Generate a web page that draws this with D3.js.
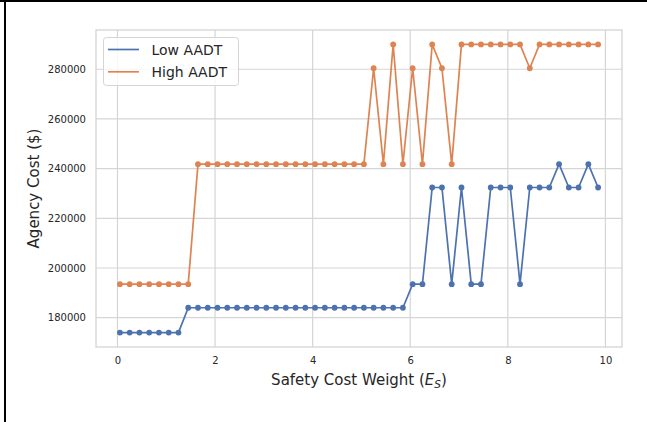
<!DOCTYPE html>
<html>
<head>
<meta charset="utf-8">
<script src="https://cdn.jsdelivr.net/npm/d3@7"></script>
<style>
	html, body { margin: 0; padding: 0; background: #fff; }
	text { font-family: 'DejaVu Sans', sans-serif; fill: #262626; }
</style>
</head>
<body>
<div id="chart"></div>
<script>
// safety cost weight (x)
const weights = [
	0.05, 0.25, 0.45, 0.65, 0.85, 1.05, 1.25, 1.45, 1.65, 1.85,
	2.05, 2.25, 2.45, 2.65, 2.85, 3.05, 3.25, 3.45, 3.65, 3.85,
	4.05, 4.25, 4.45, 4.65, 4.85, 5.05, 5.25, 5.45, 5.65, 5.85,
	6.05, 6.25, 6.45, 6.65, 6.85, 7.05, 7.25, 7.45, 7.65, 7.85,
	8.05, 8.25, 8.45, 8.65, 8.85, 9.05, 9.25, 9.45, 9.65, 9.85
];

// agency cost, low AADT
const lowAADT = [
	174000, 174000, 174000, 174000, 174000, 174000, 174000, 184000, 184000, 184000,
	184000, 184000, 184000, 184000, 184000, 184000, 184000, 184000, 184000, 184000,
	184000, 184000, 184000, 184000, 184000, 184000, 184000, 184000, 184000, 184000,
	193500, 193500, 232400, 232400, 193500, 232400, 193500, 193500, 232400, 232400,
	232400, 193500, 232400, 232400, 232400, 241800, 232400, 232400, 241800, 232400
];

// agency cost, high AADT
const highAADT = [
	193500, 193500, 193500, 193500, 193500, 193500, 193500, 193500, 241800, 241800,
	241800, 241800, 241800, 241800, 241800, 241800, 241800, 241800, 241800, 241800,
	241800, 241800, 241800, 241800, 241800, 241800, 280400, 241800, 290000, 241800,
	280400, 241800, 290000, 280400, 241800, 290000, 290000, 290000, 290000, 290000,
	290000, 290000, 280400, 290000, 290000, 290000, 290000, 290000, 290000, 290000
];

const xTicks = [0, 2, 4, 6, 8, 10];
const yTicks = [180000, 200000, 220000, 240000, 260000, 280000];
const seriesNames = ['Low AADT', 'High AADT'];

const config = {
	width: 647,
	height: 422,
	left: 96,
	right: 622,
	top: 30,
	bottom: 347,
	grid: '#d5d5d5',
	colours: ['#4c72b0', '#dd8452']
};

const svg = d3.select('#chart')
	.append('svg')
	.attr('width', config.width)
	.attr('height', config.height);

// black frame bits on the left and top of the image
svg.append('rect').attr('x', 0).attr('y', 0).attr('width', config.width).attr('height', 2).attr('fill', '#000');
svg.append('rect').attr('x', 4).attr('y', 0).attr('width', 2).attr('height', config.height).attr('fill', '#000');

// matplotlib style 5% margins
const xExt = d3.extent(weights);
const xPad = (xExt[1] - xExt[0]) * 0.05;
const x = d3.scaleLinear()
	.domain([xExt[0] - xPad, xExt[1] + xPad])
	.range([config.left, config.right]);

const yExt = d3.extent(lowAADT.concat(highAADT));
const yPad = (yExt[1] - yExt[0]) * 0.05;
const y = d3.scaleLinear()
	.domain([yExt[0] - yPad, yExt[1] + yPad])
	.range([config.bottom, config.top]);

// grid
const grid = svg.append('g');
grid.selectAll('.vgrid')
	.data(xTicks)
	.enter()
	.append('line')
		.attr('x1', d => x(d)).attr('x2', d => x(d))
		.attr('y1', config.top).attr('y2', config.bottom)
		.attr('stroke', config.grid)
		.attr('stroke-width', 1.2);
grid.selectAll('.hgrid')
	.data(yTicks)
	.enter()
	.append('line')
		.attr('x1', config.left).attr('x2', config.right)
		.attr('y1', d => y(d)).attr('y2', d => y(d))
		.attr('stroke', config.grid)
		.attr('stroke-width', 1.2);

// axes box
svg.append('rect')
	.attr('x', config.left)
	.attr('y', config.top)
	.attr('width', config.right - config.left)
	.attr('height', config.bottom - config.top)
	.attr('fill', 'none')
	.attr('stroke', config.grid)
	.attr('stroke-width', 1.3);

// tick labels via d3 axes, lines hidden
const xAxis = svg.append('g')
	.attr('transform', `translate(0,${config.bottom})`)
	.call(d3.axisBottom(x).tickValues(xTicks).tickSize(0).tickPadding(10));
const yAxis = svg.append('g')
	.attr('transform', `translate(${config.left},0)`)
	.call(d3.axisLeft(y).tickValues(yTicks).tickSize(0).tickPadding(10).tickFormat(d3.format('d')));

[xAxis, yAxis].forEach(a => {
	a.select('.domain').remove();
	a.selectAll('text')
		.style('font-family', "'DejaVu Sans', sans-serif")
		.style('font-size', '10px')
		.attr('fill', '#262626');
});

// axis titles
const xTitle = svg.append('text')
	.attr('x', (config.left + config.right) / 2)
	.attr('y', 385)
	.attr('text-anchor', 'middle')
	.style('font-size', '15px');
xTitle.append('tspan').text('Safety Cost Weight (');
xTitle.append('tspan').attr('font-style', 'italic').text('E');
xTitle.append('tspan').attr('font-style', 'italic').attr('dy', 3).style('font-size', '10.5px').text('S');
xTitle.append('tspan').attr('dy', -3).text(')');

svg.append('text')
	.attr('transform', `translate(38.5,${(config.top + config.bottom) / 2}) rotate(-90)`)
	.attr('text-anchor', 'middle')
	.style('font-size', '15px')
	.text('Agency Cost ($)');

// series
const series = [lowAADT, highAADT];
const line = d3.line()
	.x((d, i) => x(weights[i]))
	.y(d => y(d));

series.forEach((values, s) => {
	const g = svg.append('g');
	g.append('path')
		.datum(values)
		.attr('d', line)
		.attr('fill', 'none')
		.attr('stroke', config.colours[s])
		.attr('stroke-width', 1.7)
		.attr('stroke-linejoin', 'round');
	g.selectAll('circle')
		.data(values)
		.enter()
		.append('circle')
			.attr('cx', (d, i) => x(weights[i]))
			.attr('cy', d => y(d))
			.attr('r', 2.9)
			.attr('fill', config.colours[s]);
});

// legend
const legend = svg.append('g');
legend.append('rect')
	.attr('x', 103.5)
	.attr('y', 37.5)
	.attr('width', 135)
	.attr('height', 48)
	.attr('rx', 3)
	.attr('fill', 'rgba(255,255,255,0.8)')
	.attr('stroke', config.grid)
	.attr('stroke-width', 1);

seriesNames.forEach((name, i) => {
	const ly = 49.5 + i * 22.3;
	legend.append('line')
		.attr('x1', 108).attr('x2', 139)
		.attr('y1', ly).attr('y2', ly)
		.attr('stroke', config.colours[i])
		.attr('stroke-width', 1.7);
	legend.append('text')
		.attr('x', 151.5)
		.attr('y', ly)
		.attr('dy', '0.36em')
		.style('font-size', '14px')
		.text(name);
});
</script>
</body>
</html>
